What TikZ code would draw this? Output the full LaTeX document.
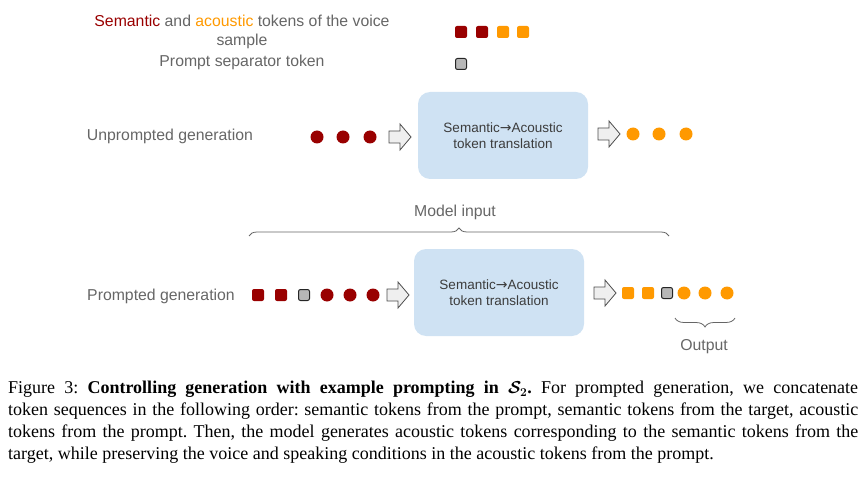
\documentclass[tikz,border=0pt]{standalone}
\usepackage{fontspec}
\setmainfont{Liberation Serif}
\newfontfamily\diagfont{Liberation Sans}
\newfontfamily\arrowfont{DejaVu Sans}
\usetikzlibrary{decorations.pathreplacing}
\definecolor{semred}{HTML}{990000}
\definecolor{acorange}{HTML}{FF9900}
\definecolor{txtgrey}{HTML}{666666}
\definecolor{boxtxt}{HTML}{3C3C3C}
\definecolor{boxblue}{HTML}{CFE2F3}
\definecolor{sepgrey}{HTML}{B7B7B7}
\definecolor{arrowfill}{HTML}{EFEFEF}
\newcommand{\toarrow}{{\arrowfont\fontsize{14}{16}\selectfont →}}
\tikzset{
  lbl/.style={font=\diagfont\fontsize{15.8}{19}\selectfont, text=txtgrey, inner sep=0pt, align=center},
  boxlbl/.style={font=\diagfont\fontsize{13.5}{16}\selectfont, text=boxtxt, align=center},
  semsq/.style={rectangle, rounded corners=2pt, fill=semred, minimum size=12pt, inner sep=0pt},
  acsq/.style={rectangle, rounded corners=2pt, fill=acorange, minimum size=12pt, inner sep=0pt},
  sepsq/.style={rectangle, rounded corners=2pt, fill=sepgrey, draw=black!85, line width=1pt, minimum size=11pt, inner sep=0pt},
  semdot/.style={circle, fill=semred, minimum size=13pt, inner sep=0pt},
  acdot/.style={circle, fill=acorange, minimum size=13pt, inner sep=0pt},
  transbox/.style={rectangle, rounded corners=12pt, fill=boxblue, minimum width=170pt, minimum height=87pt, inner sep=0pt},
  bracestyle/.style={draw=txtgrey, line width=0.8pt, decorate},
  blockarrow/.pic={\draw[fill=arrowfill, draw=black!70, line width=0.8pt, line join=miter]
     (0,-6) -- (11,-6) -- (11,-13) -- (22,0) -- (11,13) -- (11,6) -- (0,6) -- cycle;}
}
\begin{document}
\begin{tikzpicture}[x=1pt, y=-1pt]
\useasboundingbox (0,0) rectangle (866,478);
% legend
\node[lbl] (leg1) at (242,32) {{\color{semred}Semantic} and {\color{acorange}acoustic} tokens of the voice\\sample};
\node[lbl] (leg2) at (242,62) {Prompt separator token};
\node[semsq] (l1) at (461,32) {};
\node[semsq] (l2) at (482,32) {};
\node[acsq] (l3) at (503,32) {};
\node[acsq] (l4) at (523,32) {};
\node[sepsq] (l5) at (461,64) {};
% row 1
\node[lbl] (unp) at (170,136) {Unprompted generation};
\node[semdot] (u1) at (317,137) {};
\node[semdot] (u2) at (343,137) {};
\node[semdot] (u3) at (370,137) {};
\pic at (389,137) {blockarrow};
\node[transbox] (box1) at (503,135.5) {};
\node[boxlbl] (box1t) at (box1) {Semantic\toarrow Acoustic\\token translation};
\pic at (598,134) {blockarrow};
\node[acdot] (o1) at (633,134) {};
\node[acdot] (o2) at (659,134) {};
\node[acdot] (o3) at (686,134) {};
% model input brace
\node[lbl] (mi) at (455,212) {Model input};
\coordinate (mbL) at (249,236);
\coordinate (mbR) at (669,236);
\draw[bracestyle, decoration={brace, amplitude=8pt}] (mbL) -- (mbR);
% row 2
\node[lbl] (pro) at (161,296) {Prompted generation};
\node[semsq] (p1) at (258,295) {};
\node[semsq] (p2) at (281,295) {};
\node[sepsq] (p3) at (304,295) {};
\node[semdot] (p4) at (327,295) {};
\node[semdot] (p5) at (350,295) {};
\node[semdot] (p6) at (373,295) {};
\pic at (387,295) {blockarrow};
\node[transbox] (box2) at (499,292.5) {};
\node[boxlbl] (box2t) at (box2) {Semantic\toarrow Acoustic\\token translation};
\pic at (594,293) {blockarrow};
\node[acsq] (q1) at (628,293) {};
\node[acsq] (q2) at (648,293) {};
\node[sepsq] (q3) at (667,293) {};
\node[acdot] (q4) at (684,293) {};
\node[acdot] (q5) at (705,293) {};
\node[acdot] (q6) at (727,293) {};
\coordinate (obR) at (735,318);
\coordinate (obL) at (675,318);
\draw[bracestyle, decoration={brace, amplitude=9pt}] (obR) -- (obL);
\node[lbl] (out) at (704,347) {Output};
% caption
\node[anchor=north west, inner sep=0pt, text width=850pt, align=justify,
      font=\fontsize{18}{22}\selectfont\frenchspacing] (cap) at (8,381)
{Figure 3: \textbf{Controlling generation with example prompting in {\boldmath$\mathcal{S}_2$}.} For prompted generation, we concatenate\linebreak
token sequences in the following order: semantic tokens from the prompt, semantic tokens from the target, acoustic\linebreak
tokens from the prompt. Then, the model generates acoustic tokens corresponding to the semantic tokens from the\linebreak
target, while preserving the voice and speaking conditions in the acoustic tokens from the prompt.};
\end{tikzpicture}
\end{document}
